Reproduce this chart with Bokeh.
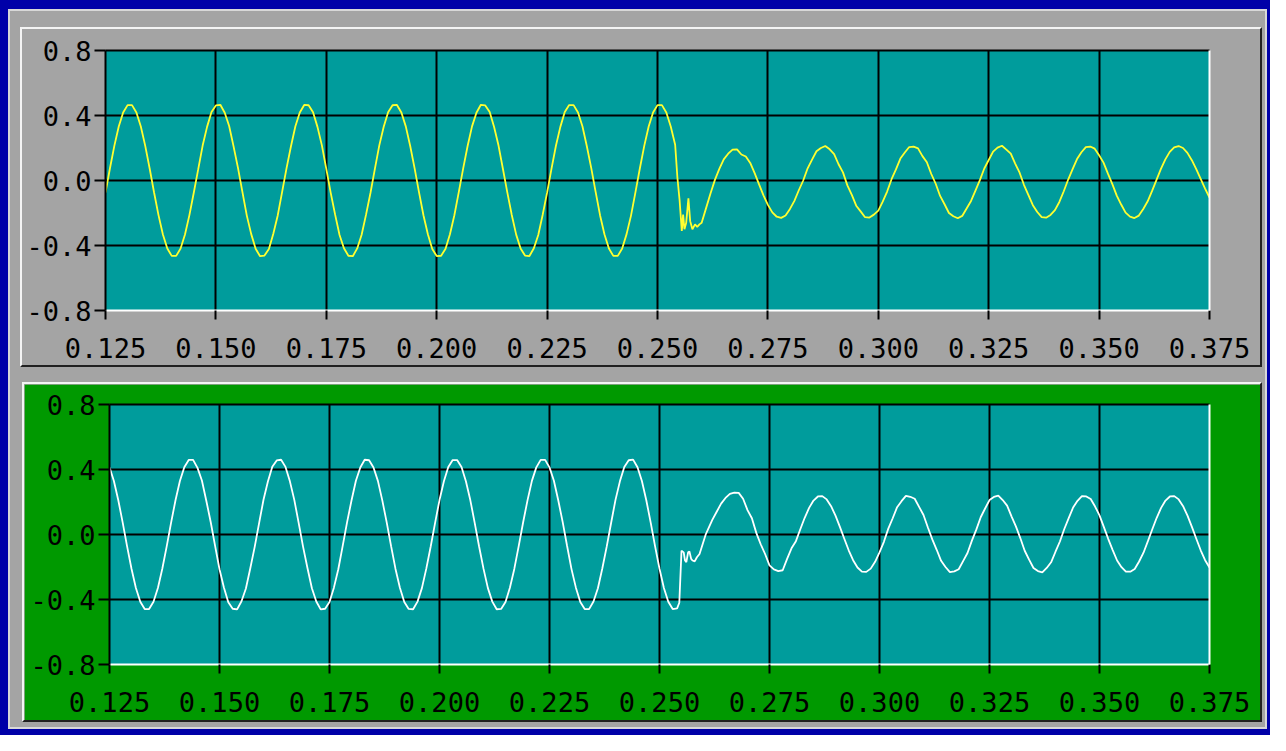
import numpy as np
from bokeh.plotting import figure
from bokeh.layouts import column
from bokeh.models import FixedTicker, LinearAxis, Range1d
from bokeh.embed import file_html
from bokeh.resources import INLINE

# ---------------- data ----------------
X_TICKS = [0.125, 0.150, 0.175, 0.200, 0.225, 0.250, 0.275, 0.300, 0.325, 0.350, 0.375]
X_LABELS = ["0.125", "0.150", "0.175", "0.200", "0.225", "0.250", "0.275", "0.300", "0.325", "0.350", "0.375"]
Y_TICKS = [-0.8, -0.4, 0.0, 0.4, 0.8]
Y_LABELS = ["-0.8", "-0.4", "0.0", "0.4", "0.8"]

SAMPLE_STEP = 0.001

# top trace (yellow): samples from 0.125 s to 0.254 s
top_a_start = 0.125
top_a = [-0.074,
 0.074, 0.213, 0.332, 0.419, 0.464, 0.464, 0.419, 0.332, 0.213, 0.074, -0.074, -0.213, -0.332, -0.419, -0.464, -0.464, -0.419, -0.332, -0.213, -0.074,
 0.070, 0.215, 0.330, 0.421, 0.462, 0.466, 0.417, 0.335, 0.210, 0.078, -0.070, -0.216, -0.330, -0.420, -0.466, -0.462, -0.421, -0.328, -0.215, -0.070,
 0.076, 0.211, 0.334, 0.418, 0.465, 0.463, 0.420, 0.330, 0.216, 0.072, -0.076, -0.210, -0.335, -0.417, -0.463, -0.466, -0.418, -0.334, -0.210, -0.077,
 0.072, 0.216, 0.331, 0.420, 0.463, 0.465, 0.418, 0.333, 0.212, 0.075, -0.073, -0.214, -0.331, -0.421, -0.465, -0.463, -0.420, -0.331, -0.214, -0.072,
 0.075, 0.212, 0.333, 0.417, 0.466, 0.462, 0.421, 0.329, 0.215, 0.071, -0.075, -0.212, -0.333, -0.418, -0.462, -0.465, -0.417, -0.335, -0.211, -0.075,
 0.073, 0.214, 0.330, 0.422, 0.464, 0.464, 0.419, 0.334, 0.211, 0.076, -0.072, -0.215, -0.332, -0.419, -0.464, -0.464, -0.419, -0.330, -0.216, -0.073,
 0.074, 0.213, 0.332, 0.419, 0.464, 0.464, 0.419, 0.332, 0.220]
# transient around 0.255 s
top_glitch_t = [0.2545, 0.2550, 0.2555, 0.2558, 0.2561, 0.2565, 0.2570, 0.2574, 0.2579, 0.2585, 0.2590, 0.2595]
top_glitch_v = [0.020, -0.120, -0.310, -0.210, -0.300, -0.260, -0.110, -0.250, -0.300, -0.270, -0.285, -0.270]
# samples from 0.260 s to 0.375 s
top_b_start = 0.260
top_b = [-0.260, -0.170, -0.080, 0.004, 0.071, 0.130, 0.165, 0.190, 0.192, 0.160, 0.148, 0.108, 0.045, -0.024, -0.091, -0.150, -0.196, -0.223, -0.230, -0.215, -0.175,
 -0.125, -0.060, 0.000, 0.075, 0.128, 0.180, 0.200, 0.212, 0.192, 0.162, 0.100, 0.050, -0.030, -0.088, -0.155, -0.190, -0.226, -0.228, -0.210, -0.185,
 -0.130, -0.068, 0.008, 0.068, 0.135, 0.172, 0.206, 0.208, 0.198, 0.150, 0.112, 0.040, -0.020, -0.095, -0.146, -0.200, -0.220, -0.232, -0.218, -0.172,
 -0.126, -0.062, 0.002, 0.074, 0.126, 0.178, 0.202, 0.214, 0.190, 0.165, 0.104, 0.048, -0.028, -0.090, -0.152, -0.194, -0.225, -0.229, -0.212, -0.182,
 -0.132, -0.066, 0.006, 0.070, 0.132, 0.174, 0.205, 0.209, 0.196, 0.155, 0.110, 0.042, -0.022, -0.093, -0.148, -0.198, -0.222, -0.231, -0.216, -0.175,
 -0.128, -0.064, 0.004, 0.072, 0.130, 0.176, 0.204, 0.212, 0.200, 0.170, 0.125, 0.070, 0.010, -0.050, -0.105]

# bottom trace (white): samples from 0.125 s to 0.254 s
bot_a_start = 0.125
bot_a = [
 0.414, 0.329, 0.211, 0.073, -0.073, -0.211, -0.329, -0.414, -0.459, -0.459, -0.414, -0.329, -0.211, -0.073, 0.073, 0.211, 0.329, 0.414, 0.459, 0.459,
 0.410, 0.332, 0.208, 0.077, -0.070, -0.214, -0.326, -0.417, -0.457, -0.461, -0.411, -0.332, -0.208, -0.076, 0.070, 0.214, 0.326, 0.417, 0.456, 0.460,
 0.416, 0.327, 0.213, 0.070, -0.076, -0.208, -0.331, -0.412, -0.461, -0.457, -0.416, -0.327, -0.214, -0.070, 0.076, 0.209, 0.331, 0.412, 0.460, 0.457,
 0.412, 0.330, 0.210, 0.075, -0.072, -0.212, -0.328, -0.415, -0.458, -0.460, -0.413, -0.330, -0.210, -0.074, 0.072, 0.212, 0.328, 0.415, 0.458, 0.458,
 0.415, 0.328, 0.212, 0.072, -0.074, -0.210, -0.330, -0.413, -0.460, -0.458, -0.415, -0.328, -0.212, -0.072, 0.074, 0.210, 0.330, 0.413, 0.459, 0.459,
 0.413, 0.331, 0.209, 0.076, -0.071, -0.213, -0.327, -0.416, -0.459, -0.459, -0.412, -0.331, -0.209, -0.075, 0.071, 0.213, 0.327, 0.416, 0.457, 0.461,
 0.414, 0.329, 0.211, 0.073, -0.073, -0.211, -0.329, -0.414, -0.459, -0.455]
bot_glitch_t = [0.2545, 0.2550, 0.2555, 0.2558, 0.2561, 0.2565, 0.2568, 0.2572, 0.2575, 0.2580, 0.2585, 0.2591, 0.2598, 0.2605]
bot_glitch_v = [-0.420, -0.100, -0.110, -0.160, -0.170, -0.110, -0.105, -0.150, -0.160, -0.165, -0.140, -0.120, -0.060, 0.000]
bot_b_start = 0.261
bot_b = [0.030, 0.090, 0.140, 0.190, 0.225, 0.250, 0.258, 0.256, 0.220, 0.150, 0.100, 0.010, -0.060, -0.120, -0.190, -0.215, -0.225, -0.220, -0.150, -0.085,
 -0.041, 0.032, 0.103, 0.164, 0.209, 0.234, 0.236, 0.216, 0.174, 0.116, 0.047, -0.026, -0.097, -0.158, -0.203, -0.228, -0.230, -0.210, -0.168, -0.110,
 -0.045, 0.036, 0.100, 0.168, 0.205, 0.238, 0.232, 0.220, 0.170, 0.120, 0.043, -0.030, -0.094, -0.162, -0.200, -0.231, -0.227, -0.214, -0.164, -0.114,
 -0.038, 0.030, 0.106, 0.160, 0.212, 0.231, 0.239, 0.212, 0.178, 0.112, 0.050, -0.022, -0.100, -0.155, -0.206, -0.225, -0.233, -0.206, -0.171, -0.106,
 -0.043, 0.034, 0.101, 0.166, 0.207, 0.236, 0.234, 0.218, 0.172, 0.118, 0.045, -0.028, -0.096, -0.160, -0.201, -0.229, -0.229, -0.212, -0.166, -0.112,
 -0.041, 0.032, 0.103, 0.164, 0.209, 0.234, 0.236, 0.216, 0.174, 0.116, 0.047, -0.026, -0.097, -0.158, -0.203]


def sample_times(start, n):
    return list(np.round(start + SAMPLE_STEP * np.arange(n), 4))


top_t = sample_times(top_a_start, len(top_a)) + top_glitch_t + sample_times(top_b_start, len(top_b))
top_v = top_a + top_glitch_v + top_b
bot_t = sample_times(bot_a_start, len(bot_a)) + bot_glitch_t + sample_times(bot_b_start, len(bot_b))
bot_v = bot_a + bot_glitch_v + bot_b

# ---------------- style ----------------
TEAL = "#009C9C"
GRAY = "#A4A4A4"
GREEN = "#009900"
BLUE = "#0000A8"
FONT = "DejaVu Sans Mono"
FSIZE = "27px"


def make_panel(xs, ys, line_color, panel_color, w, h, ml, mt, mr, mb):
    p = figure(width=w, height=h, x_range=Range1d(X_TICKS[0], X_TICKS[-1]),
               y_range=Range1d(Y_TICKS[0], Y_TICKS[-1]),
               output_backend="svg", toolbar_location=None,
               min_border_left=ml, min_border_top=mt, min_border_right=mr, min_border_bottom=mb,
               x_axis_location="below", y_axis_location="left")
    p.background_fill_color = TEAL
    p.border_fill_color = panel_color
    p.outline_line_color = None

    for g in (p.xgrid, p.ygrid):
        g.grid_line_color = "black"
        g.grid_line_width = 2
    p.xgrid.ticker = FixedTicker(ticks=X_TICKS)
    p.ygrid.ticker = FixedTicker(ticks=Y_TICKS)

    xa = p.xaxis[0]
    xa.ticker = FixedTicker(ticks=X_TICKS)
    xa.major_label_overrides = dict(zip(X_TICKS, X_LABELS))
    xa.axis_line_color = "white"
    xa.axis_line_width = 2
    xa.major_tick_line_color = "black"
    xa.major_tick_line_width = 2
    xa.major_tick_out = 9
    xa.major_tick_in = 0
    xa.minor_tick_line_color = None
    xa.major_label_standoff = 18
    xa.major_label_text_font = FONT
    xa.major_label_text_font_size = FSIZE
    xa.major_label_text_color = "black"

    ya = p.yaxis[0]
    ya.ticker = FixedTicker(ticks=Y_TICKS)
    ya.major_label_overrides = dict(zip(Y_TICKS, Y_LABELS))
    ya.axis_line_color = "black"
    ya.axis_line_width = 2
    ya.major_tick_line_color = "black"
    ya.major_tick_line_width = 2
    ya.major_tick_out = 11
    ya.major_tick_in = 0
    ya.minor_tick_line_color = None
    ya.major_label_standoff = 3
    ya.major_label_text_font = FONT
    ya.major_label_text_font_size = FSIZE
    ya.major_label_text_color = "black"

    for loc, color in (("above", "black"), ("right", "white")):
        ax = LinearAxis(ticker=FixedTicker(ticks=[]), axis_line_color=color, axis_line_width=2,
                        major_tick_line_color=None, minor_tick_line_color=None,
                        major_label_text_font_size="0px")
        p.add_layout(ax, loc)

    p.line(xs, ys, line_color=line_color, line_width=1.8)
    return p


p_top = make_panel(top_t, top_v, "#FFFF30", GRAY, 1238, 336, 83, 21, 51, 55)
p_bot = make_panel(bot_t, bot_v, "#FFFFFF", GREEN, 1236, 336, 85, 20, 51, 56)

bevel = {"border-style": "solid", "border-width": "2px",
         "border-color": "#F4F4F4 #202020 #202020 #F4F4F4", "box-sizing": "border-box"}
top_wrap = column(p_top, styles=dict(bevel, width="1242px", height="340px"))
bot_wrap = column(p_bot, styles=dict(bevel, width="1240px", height="340px", **{"margin-left": "2px"}))

inner = column(top_wrap, bot_wrap, spacing=15,
               styles={"background-color": GRAY, "border": "2px solid #D8D8D8",
                       "padding": "16px 3px 5px 10px", "box-sizing": "border-box",
                       "width": "1259px", "height": "720px"})
outer = column(inner, styles={"border-style": "solid", "border-color": BLUE,
                              "border-width": "9px 3px 6px 8px", "box-sizing": "border-box",
                              "width": "1270px", "height": "735px", "background-color": GRAY})

open("out.html", "w").write(file_html(outer, INLINE))
